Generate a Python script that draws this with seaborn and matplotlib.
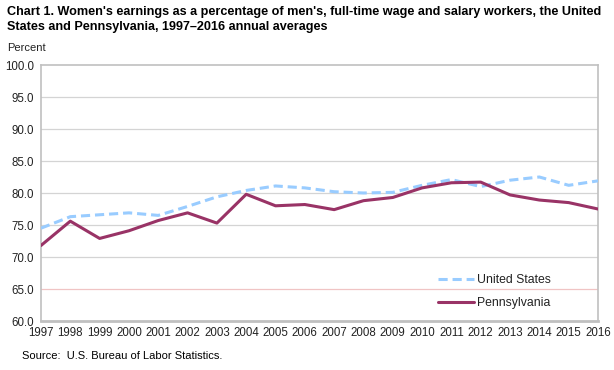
import matplotlib
matplotlib.use("Agg")
import matplotlib.pyplot as plt
from matplotlib import font_manager
import seaborn as sns
import pandas as pd
from matplotlib.ticker import FormatStrFormatter

years = list(range(1997, 2017))
us_values = [74.5, 76.3, 76.6, 76.9, 76.5, 77.9, 79.4, 80.4, 81.1, 80.8,
             80.2, 80.0, 80.1, 81.2, 82.1, 81.0, 82.0, 82.5, 81.2, 81.9]
pa_values = [71.8, 75.6, 72.9, 74.1, 75.7, 76.9, 75.3, 79.8, 78.0, 78.2,
             77.4, 78.8, 79.3, 80.8, 81.6, 81.7, 79.7, 78.9, 78.5, 77.5]
yticks = [60, 65, 70, 75, 80, 85, 90, 95, 100]

title = ("Chart 1. Women's earnings as a percentage of men's, full-time wage and salary workers, the United\n"
         "States and Pennsylvania, 1997\u20132016 annual averages")

sns.set_theme(style="white")
plt.rcParams['font.family'] = ['Liberation Sans', 'DejaVu Sans']

names = {f.name for f in font_manager.fontManager.ttflist}
if "Liberation Sans Narrow" in names:
    title_family = ["Liberation Sans Narrow", "DejaVu Sans"]
    title_size = 10.5
else:
    title_family = ["Liberation Sans", "DejaVu Sans"]
    title_size = 9.1

fig = plt.figure(figsize=(6.14, 3.70), dpi=100)
ax = fig.add_axes([41/614, 1-321/370, (598-41)/614, (321-65)/370])

df_us = pd.DataFrame({"year": years, "value": us_values})
df_pa = pd.DataFrame({"year": years, "value": pa_values})

for t in yticks[1:-1]:
    c = "#f0c4c4" if t == 65 else "#d4d4d4"
    ax.axhline(t, color=c, lw=0.9, zorder=0)

sns.lineplot(data=df_us, x="year", y="value", ax=ax, color="#99ccff", lw=2.2,
             label="United States", zorder=3)
ax.lines[-1].set_dashes([3, 1.6])
sns.lineplot(data=df_pa, x="year", y="value", ax=ax, color="#993366", lw=2.2,
             label="Pennsylvania", zorder=4)

ax.set_xlim(1997, 2016)
ax.set_ylim(60, 100)
ax.set_yticks(yticks)
ax.yaxis.set_major_formatter(FormatStrFormatter("%.1f"))
ax.set_xticks(years)
ax.set_xticklabels([str(y) for y in years])
ax.set_xlabel("")
ax.set_ylabel("")
ax.tick_params(axis="x", direction="in", length=4, width=0.8, color="#c8c8c8",
               labelsize=8.3, labelcolor="#222222", pad=4)
ax.tick_params(axis="y", length=0, labelsize=8.3, labelcolor="#222222", pad=5)

for side, lw in [("left", 1.2), ("right", 1.2), ("top", 1.2), ("bottom", 2.0)]:
    ax.spines[side].set_visible(True)
    ax.spines[side].set_color("#c0c0c0")
    ax.spines[side].set_linewidth(lw)

leg = ax.legend(loc="lower left", bbox_to_anchor=(0.69, 0.0), frameon=False,
                fontsize=8.8, handlelength=3.0, handletextpad=0.2,
                labelspacing=0.85, borderaxespad=0.6)
for txt in leg.get_texts():
    txt.set_color("#222222")

fig.text(7/614, 1-6/370, title, ha="left", va="top", fontsize=title_size,
         family=title_family, fontweight="bold", linespacing=1.3, color="#000000")
fig.text(7/614, 1-43/370, "Percent", ha="left", va="top", fontsize=8, color="#222222")
fig.text(22/614, 1-351/370, "Source:  U.S. Bureau of Labor Statistics.", ha="left",
         va="top", fontsize=8, color="#000000")

fig.savefig("out.png", dpi=100)
